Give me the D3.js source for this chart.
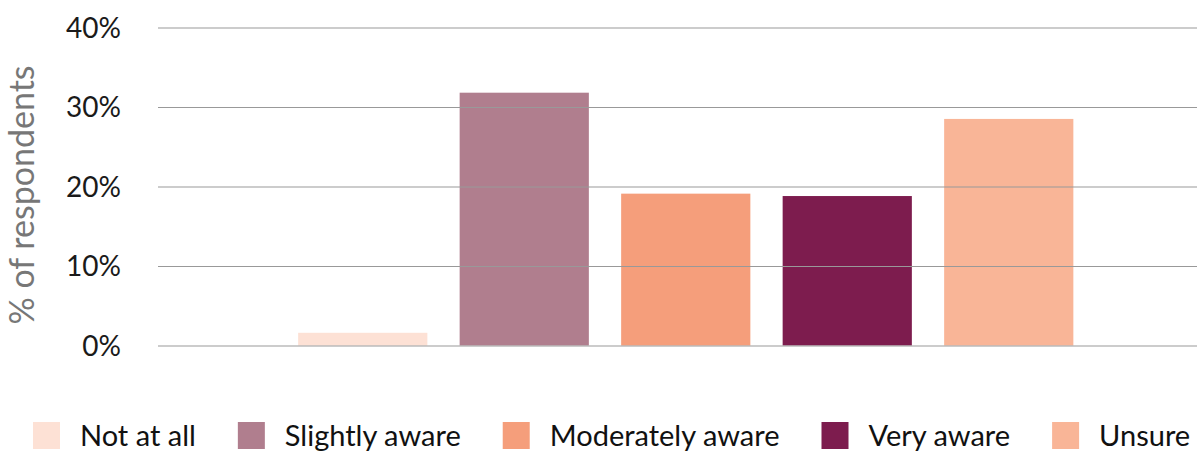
<!DOCTYPE html>
<html>
<head>
<meta charset="utf-8">
<script src="https://cdn.jsdelivr.net/npm/d3@7"></script>
<style>
    body { margin: 0; background: #fff; }
    text { font-family: Lato, "Noto Sans", sans-serif; }
</style>
</head>
<body>
<svg id="chart" width="1197" height="451"></svg>
<script>
// awareness levels and share of respondents (%)
const categories = ["Not at all", "Slightly aware", "Moderately aware", "Very aware", "Unsure"];
const values = [1.6, 31.8, 19.1, 18.8, 28.5];
const colors = ["#FDE1D5", "#B07E8E", "#F59E7B", "#7D1C4E", "#F9B597"];
const yTicks = [0, 10, 20, 30, 40];

const svg = d3.select("#chart");

const x = d3.scaleBand()
    .domain(categories)
    .range([282, 1089.5])
    .paddingInner(0.2)
    .paddingOuter(0.1);

const y = d3.scaleLinear()
    .domain([0, 40])
    .range([345.5, 27.5]);

const color = d3.scaleOrdinal().domain(categories).range(colors);

// bars first, gridlines are drawn on top of them
svg.append("g")
    .selectAll("rect")
    .data(categories)
    .join("rect")
    .attr("x", d => x(d))
    .attr("width", x.bandwidth())
    .attr("y", (d, i) => y(values[i]))
    .attr("height", (d, i) => y(0) - y(values[i]))
    .attr("fill", d => color(d));

// y axis with full-width gridlines
const yAxis = svg.append("g")
    .attr("transform", "translate(158,0)")
    .call(d3.axisLeft(y)
        .tickValues(yTicks)
        .tickSize(-1039)
        .tickPadding(37)
        .tickFormat(d => d + "%"));

yAxis.select(".domain").remove();
yAxis.selectAll(".tick line")
    .attr("stroke", "#999")
    .attr("stroke-width", 1);
yAxis.selectAll(".tick text")
    .attr("fill", "#1a1a1a")
    .attr("font-size", 28)
    .attr("dy", "0.34em");

svg.append("text")
    .attr("transform", "translate(34,195) rotate(-90)")
    .attr("text-anchor", "middle")
    .attr("fill", "#777")
    .attr("font-size", 34)
    .text("% of respondents");

// legend laid out left to right
const legend = svg.append("g").attr("transform", "translate(33,0)");
let lx = 0;
categories.forEach((c, i) => {
    const item = legend.append("g").attr("transform", `translate(${lx},0)`);
    item.append("rect")
        .attr("x", 0)
        .attr("y", 422)
        .attr("width", 27)
        .attr("height", 27)
        .attr("fill", colors[i]);
    const t = item.append("text")
        .attr("x", 47)
        .attr("y", 446)
        .attr("font-size", 29)
        .attr("fill", "#111")
        .text(c);
    lx += 47 + t.node().getComputedTextLength() + 42;
});
</script>
</body>
</html>
